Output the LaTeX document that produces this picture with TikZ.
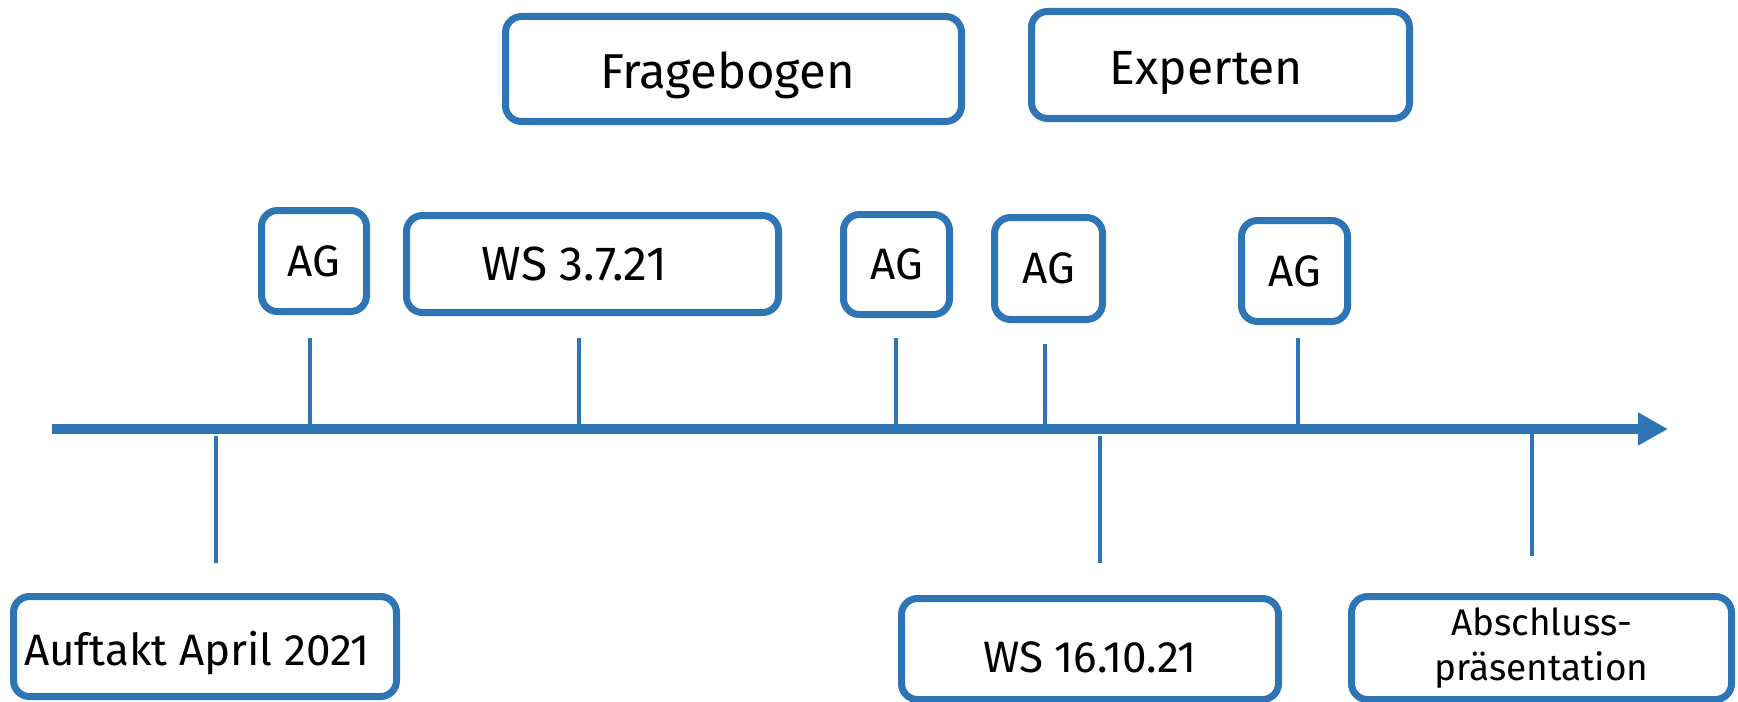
\documentclass[tikz,border=0pt]{standalone}
\usepackage{fontspec}
\setmainfont{Fira Sans}
\usepackage{xcolor}
\usetikzlibrary{arrows.meta}
\definecolor{tlblue}{RGB}{46,117,182}

\begin{document}
\begin{tikzpicture}[x=0.5pt,y=-0.5pt,
    box/.style={draw=tlblue,line width=3.5pt,rounded corners=8pt,inner sep=0pt,
      align=center,font=\fontsize{22}{26}\selectfont},
    big/.style={font=\fontsize{24.5}{28}\selectfont},
    baseoff/.style={text height=#1,text depth=0pt},
    tick/.style={tlblue,line width=2.25pt}]
        \useasboundingbox (0,0) rectangle (1738,701);
        % time axis
        \draw[tlblue,line width=5pt,-{Triangle[length=15pt,width=15.5pt]}] (52,429) -- (1668,429);
        \foreach \x/\a/\b in {310/338/425, 579/338/425, 896/338/425, 1045/344/432, 1298/338/425,
            216/436/563, 1100/436/563, 1532/432/556}
        \draw[tick] (\x,\a) -- (\x,\b);
        % phases above
        \node (frage) [box,big,baseoff=20pt,minimum width=228pt,minimum height=52.5pt] at (733.5,69) {\hspace*{-6pt}Fragebogen};
        \node (exp) [box,big,font=\fontsize{24}{28}\selectfont,baseoff=20pt,minimum width=189pt,minimum height=53.5pt] at (1220.5,65) {\hspace*{-14pt}Experten};
        % meetings above the axis
        \node (ag1) [box,minimum width=52.5pt,minimum height=50.5pt] at (314,261) {AG};
        \node (ws1) [box,font=\fontsize{24}{28}\selectfont,minimum width=186pt,minimum height=48.5pt] at (592.5,264) {\hspace*{-18pt}WS 3.7.21};
        \node (ag2) [box,minimum width=53pt,minimum height=50pt] at (896.5,264.5) {AG};
        \node (ag3) [box,minimum width=54pt,minimum height=51pt] at (1048.5,268.5) {AG};
        \node (ag4) [box,minimum width=53pt,minimum height=50.5pt] at (1294.5,271) {AG};
        % events below the axis
        \node (auft) [box,baseoff=18.5pt,minimum width=191.5pt,minimum height=50pt] at (205,646.5) {\hspace*{-8pt}Auftakt April 2021};
        \node (ws2) [box,baseoff=23pt,minimum width=188.5pt,minimum height=50.5pt] at (1090,649) {WS 16.10.21};
        \node (absch) [box,minimum width=190pt,minimum height=51.5pt,
            font=\fontsize{18.5}{22.5}\selectfont] at (1541.5,648) {Abschluss-\\präsentation};
\end{tikzpicture}
\end{document}
